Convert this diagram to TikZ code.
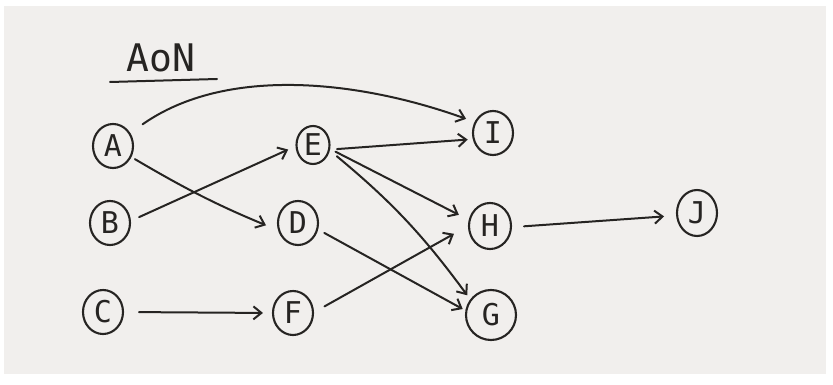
\documentclass[tikz,border=0pt]{standalone}
\usepackage{fontspec}
\setmonofont{DejaVu Sans Mono}
\usetikzlibrary{shapes.geometric,arrows.meta}
\definecolor{paper}{HTML}{F1EFED}
\definecolor{ink}{HTML}{262422}
\tikzset{
  act/.style={ellipse, draw=ink, line width=2.1pt, inner sep=0pt,
    minimum width=40pt, minimum height=44pt, text=ink,
    font=\ttfamily\fontsize{30}{30}\selectfont},
  arr/.style={draw=ink, line width=2pt, line cap=round,
    -{Straight Barb[length=8pt,width=13pt,line width=2pt]}},
}
\begin{document}
\begin{tikzpicture}[x=1pt,y=-1pt]
  % sheet of paper with a thin white margin
  \fill[white] (0,0) rectangle (833,385);
  \useasboundingbox (0,0) rectangle (833,385);
  \fill[paper] (4,6) rectangle (826,374);

  % title
  \node[text=ink, font=\ttfamily\fontsize{38}{38}\selectfont] (title) at (161,58) {AoN};
  \coordinate (ulL) at (110,82);
  \coordinate (ulR) at (217,79);
  \draw[ink, line width=2pt, line cap=round] (ulL) -- (ulR);

  % activities
  \node[act] (A) at (113,146) {A};
  \node[act] (B) at (110,223) {B};
  \node[act] (C) at (103,312) {C};
  \node[act, minimum width=33pt, minimum height=38pt] (E) at (313,145) {E};
  \node[act] (D) at (298,223) {D};
  \node[act] (F) at (293,313) {F};
  \node[act] (I) at (493,133) {I};
  \node[act, minimum width=42pt, minimum height=46pt] (H) at (490,226) {H};
  \node[act, minimum width=50pt, minimum height=50pt] (G) at (491,315) {G};
  \node[act, minimum width=40pt, minimum height=46pt] (J) at (697,213) {J};

  % precedence arrows
  \draw[arr, shorten <=15pt, shorten >=9pt] (A.37) .. controls (227,65) and (361,81) .. (I.149);
  \draw[arr, shorten <=7pt, shorten >=5pt] (E.-15) -- (I.-163);
  \draw[arr, shorten <=4pt, shorten >=13pt] (A.-31) to[bend right=4] (D.-160);
  \draw[arr, shorten <=9pt, shorten >=8pt] (B.6) -- (E.-176);
  \draw[arr, shorten <=15pt, shorten >=9pt] (C.0) -- (F.180);
  \draw[arr, shorten <=7pt, shorten >=3pt] (D.-18) -- (G.170);
  \draw[arr, shorten <=12pt, shorten >=16pt] (F.2) -- (H.180);
  \draw[arr, shorten <=6pt, shorten >=11pt] (E.-13) -- (H.164);
  \draw[arr, shorten <=9pt, shorten >=5pt] (E.-18) to[bend left=7] (G.143);
  \draw[arr, shorten <=12pt, shorten >=12pt] (H.-3) -- (J.-173);
\end{tikzpicture}
\end{document}
